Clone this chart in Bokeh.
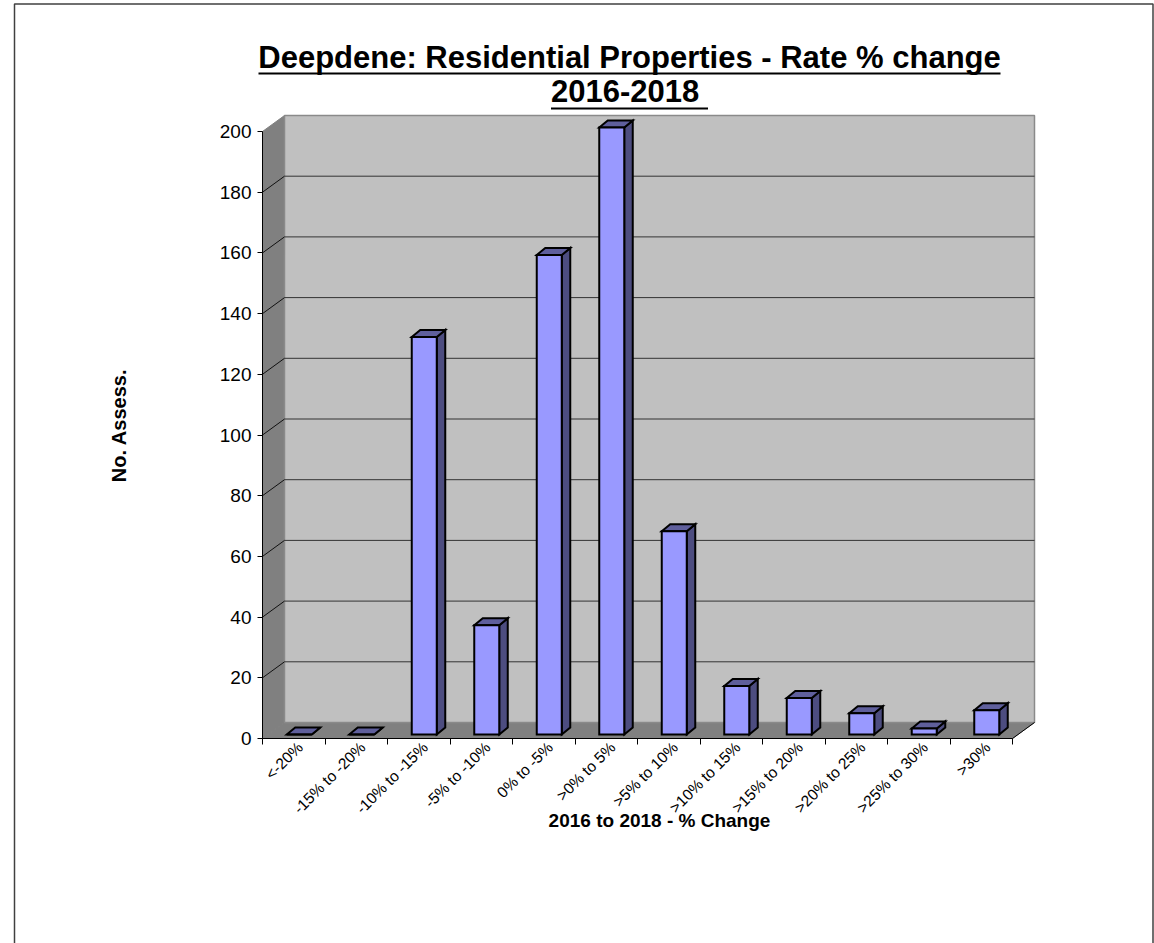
import math
from bokeh.plotting import figure
from bokeh.models import Range1d, LinearAxis, FixedTicker
from bokeh.core.properties import value
from bokeh.embed import file_html
from bokeh.resources import INLINE

# ---------------- data ----------------
categories = ["<-20%", "-15% to -20%", "-10% to -15%", "-5% to -10%", "0% to -5%",
              ">0% to 5%", ">5% to 10%", ">10% to 15%", ">15% to 20%",
              ">20% to 25%", ">25% to 30%", ">30%"]
counts = [0, 0, 131, 36, 158, 200, 67, 16, 12, 7, 2, 8]
y_ticks = [0, 20, 40, 60, 80, 100, 120, 140, 160, 180, 200]
title_lines = ["Deepdene: Residential Properties - Rate % change", "2016-2018 "]
x_title = "2016 to 2018 - % Change"
y_title = "No. Assess."

# ---------------- layout (pixels) ----------------
W, H = 1154, 943
AX_LEFT, AX_RIGHT = 262, 1012
AX_BOTTOM, AX_TOP = 738, 131
YMAX = y_ticks[-1]
n = len(categories)
PX_PER_CAT = (AX_RIGHT - AX_LEFT) / n
PX_PER_UNIT = (AX_BOTTOM - AX_TOP) / YMAX


def X(px):
    return (px - AX_LEFT) / PX_PER_CAT


def Y(py):
    return (AX_BOTTOM - py) / PX_PER_UNIT


FONT = value("Liberation Sans")

p = figure(width=W, height=H, x_range=Range1d(X(0), X(W)), y_range=Range1d(Y(H), Y(0)),
           x_axis_location=None, y_axis_location=None, toolbar_location=None,
           output_backend="svg", min_border=0, outline_line_color=None, title=None)
p.background_fill_color = "white"
p.border_fill_color = "white"
for g in p.grid:
    g.visible = False

# 3D depth
DX = 22 / PX_PER_CAT
DY = 16 / PX_PER_UNIT

# walls & floor
p.patch([0, 0, DX, DX], [0, YMAX, YMAX + DY, DY], fill_color="#808080",
        line_color="#808080", line_width=1)
p.patch([0, n, n + DX, DX], [0, 0, DY, DY], fill_color="#808080",
        line_color="#808080", line_width=1)
p.quad(left=DX, right=n + DX, bottom=DY, top=YMAX + DY, fill_color="#C0C0C0",
       line_color="#8a8a8a", line_width=1.5)

inner = y_ticks[1:-1]
p.segment(x0=[DX] * len(inner), y0=[t + DY for t in inner],
          x1=[n + DX] * len(inner), y1=[t + DY for t in inner],
          line_color="#333333", line_width=1)
p.segment(x0=[0] * len(inner), y0=inner, x1=[DX] * len(inner),
          y1=[t + DY for t in inner], line_color="#111111", line_width=1)
p.segment(x0=[n], y0=[0], x1=[n + DX], y1=[DY], line_color="black", line_width=1)

# bars
bx, by = 0.25 * DX, 0.25 * DY
bw = 25 / PX_PER_CAT
ddx = 8.5 / PX_PER_CAT
ddy = 7 / PX_PER_UNIT
side_xs, side_ys, top_xs, top_ys, lefts, rights, bottoms, tops = [], [], [], [], [], [], [], []
for i, v in enumerate(counts):
    x0 = i + 0.5 + bx - bw / 2
    x1 = x0 + bw
    b = by
    t = by + v
    side_xs.append([x1, x1 + ddx, x1 + ddx, x1])
    side_ys.append([b, b + ddy, t + ddy, t])
    top_xs.append([x0, x0 + ddx, x1 + ddx, x1])
    top_ys.append([t, t + ddy, t + ddy, t])
    lefts.append(x0)
    rights.append(x1)
    bottoms.append(b)
    tops.append(t)

p.patches(side_xs, side_ys, fill_color="#4d4d80", line_color="black", line_width=2,
          line_join="miter")
p.patches(top_xs, top_ys, fill_color="#5f5f9c", line_color="black", line_width=2,
          line_join="miter")
p.quad(left=lefts, right=rights, bottom=bottoms, top=tops, fill_color="#9999ff",
       line_color="black", line_width=2, line_join="miter")

# axes
xaxis = LinearAxis(fixed_location=0, bounds=(0, n),
                   ticker=FixedTicker(ticks=[i + 0.6 for i in range(n)],
                                      minor_ticks=list(range(n + 1))),
                   major_label_overrides={i + 0.6: c for i, c in enumerate(categories)},
                   major_label_orientation=math.pi / 4,
                   major_tick_in=0, major_tick_out=0,
                   minor_tick_in=0, minor_tick_out=6,
                   axis_line_color="black", minor_tick_line_color="black",
                   major_label_text_font="Liberation Sans",
                   major_label_text_font_size="15.5px",
                   major_label_text_color="black",
                   major_label_standoff=0)
p.add_layout(xaxis, "below")

yaxis = LinearAxis(fixed_location=0, bounds=(0, YMAX),
                   ticker=FixedTicker(ticks=y_ticks),
                   major_tick_in=0, major_tick_out=5,
                   minor_tick_in=0, minor_tick_out=0,
                   axis_line_color="black", major_tick_line_color="black",
                   major_label_text_font="Liberation Sans",
                   major_label_text_font_size="19px",
                   major_label_text_color="black",
                   major_label_standoff=6)
p.add_layout(yaxis, "left")

# titles
TITLE_CX = 629
p.text(x=[X(TITLE_CX)] * 2, y=[Y(57), Y(91)], text=title_lines, text_font=FONT,
       text_font_style="bold", text_font_size="31px", text_align="center",
       text_baseline="middle", text_color="black")
UL = [742, 157]
p.segment(x0=[X(TITLE_CX - UL[0] / 2), X(TITLE_CX - UL[1] / 2)], y0=[Y(73), Y(108)],
          x1=[X(TITLE_CX + UL[0] / 2), X(TITLE_CX + UL[1] / 2)], y1=[Y(73), Y(108)],
          line_color="black", line_width=2)

p.text(x=[X(659)], y=[Y(820)], text=[x_title], text_font=FONT, text_font_style="bold",
       text_font_size="19px", text_align="center", text_baseline="middle",
       text_color="black")
p.text(x=[X(118)], y=[Y(425)], text=[y_title], text_font=FONT, text_font_style="bold",
       text_font_size="20px", text_align="center", text_baseline="middle",
       angle=math.pi / 2, text_color="black")

# outer border
p.quad(left=X(14), right=X(1152.5), top=Y(3.5), bottom=Y(H + 20), fill_color=None,
       line_color="#404040", line_width=1.5)

open("out.html", "w").write(file_html(p, INLINE))
